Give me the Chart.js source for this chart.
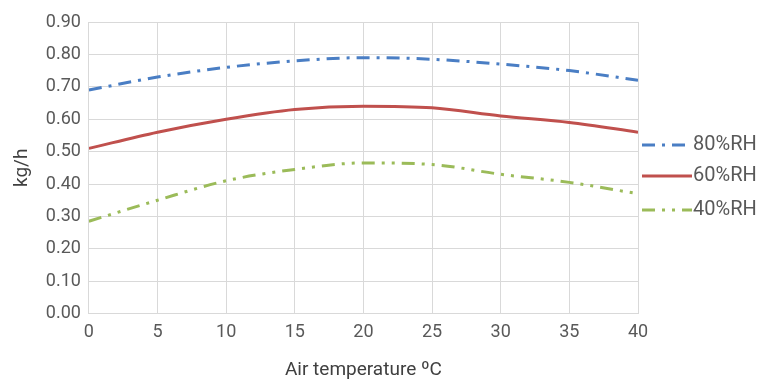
<!DOCTYPE html>
<html>
<head>
<meta charset="utf-8">
<script src="https://cdn.jsdelivr.net/npm/chart.js@4/dist/chart.umd.min.js"></script>
<style>
  html, body { margin: 0; padding: 0; background: #fff; }
  #wrap { width: 768px; height: 386px; }
</style>
</head>
<body>
<div id="wrap"><canvas id="chart" width="768" height="386"></canvas></div>
<script>
// DATA
const temps = [0, 5, 10, 15, 20, 25, 30, 35, 40];
const rh80 = [0.69, 0.73, 0.76, 0.78, 0.79, 0.785, 0.77, 0.75, 0.72];
const rh60 = [0.51, 0.56, 0.60, 0.63, 0.64, 0.635, 0.61, 0.59, 0.56];
const rh40 = [0.285, 0.35, 0.41, 0.445, 0.465, 0.46, 0.43, 0.405, 0.37];
const seriesNames = ["80%RH", "60%RH", "40%RH"];

const colors = ["#4A7EC4", "#C0504D", "#9BBB59"];
const dashes = [[13, 7, 3, 7], [], [13, 7, 3, 7, 3, 7]];

function pts(vals) {
  return temps.map((t, i) => ({ x: t, y: vals[i] }));
}

// LEGEND (drawn on the right)
const sideLegend = {
  id: "sideLegend",
  afterDraw(chart) {
    const ctx = chart.ctx;
    const ys = [145, 176, 210];
    ctx.save();
    ctx.font = "20px Roboto";
    ctx.textBaseline = "middle";
    ctx.fillStyle = "#595959";
    seriesNames.forEach((name, i) => {
      ctx.strokeStyle = colors[i];
      ctx.lineWidth = 3;
      ctx.setLineDash(dashes[i]);
      ctx.beginPath();
      ctx.moveTo(642, ys[i]);
      ctx.lineTo(692, ys[i]);
      ctx.stroke();
      ctx.setLineDash([]);
      ctx.fillText(name, 693, ys[i]);
    });
    ctx.restore();
  }
};

new Chart(document.getElementById("chart"), {
  type: "line",
  data: {
    datasets: [rh80, rh60, rh40].map((vals, i) => ({
      label: seriesNames[i],
      data: pts(vals),
      borderColor: colors[i],
      borderWidth: 3,
      borderDash: dashes[i],
      pointRadius: 0,
      tension: 0.4,
      cubicInterpolationMode: "monotone",
      fill: false
    }))
  },
  options: {
    responsive: false,
    animation: false,
    layout: { padding: { top: 22, right: 130, left: 7, bottom: 0 } },
    plugins: {
      legend: { display: false },
      tooltip: { enabled: false }
    },
    scales: {
      x: {
        type: "linear",
        min: 0,
        max: 40,
        ticks: { stepSize: 5, color: "#595959", font: { family: "Roboto", size: 18 }, padding: 8 },
        grid: { color: "#d9d9d9", lineWidth: 1, drawTicks: false },
        border: { color: "#d9d9d9" },
        title: { display: true, text: "Air temperature ºC", color: "#404040", font: { family: "Roboto", size: 19 }, padding: { top: 8 } }
      },
      y: {
        min: 0,
        max: 0.9,
        ticks: {
          stepSize: 0.1,
          color: "#595959",
          font: { family: "Roboto", size: 18 },
          padding: 8,
          callback: v => v.toFixed(2)
        },
        grid: { color: "#d9d9d9", lineWidth: 1, drawTicks: false },
        border: { color: "#d9d9d9" },
        title: { display: true, text: "kg/h", color: "#404040", font: { family: "Roboto", size: 19 }, padding: { bottom: 4 } }
      }
    }
  },
  plugins: [sideLegend]
});
</script>
</body>
</html>
